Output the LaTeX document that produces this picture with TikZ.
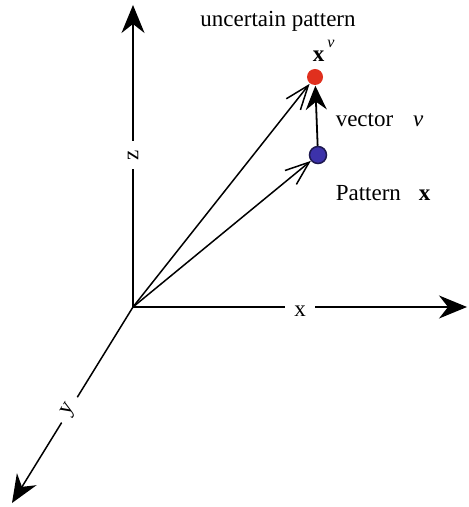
\documentclass[tikz,border=0pt]{standalone}
\usepackage{fontspec}
\setmainfont{Liberation Serif}
\usetikzlibrary{arrows.meta}

\begin{document}
\begin{tikzpicture}[x=0.5pt, y=-0.5pt, line width=0.75pt,
  axis/.style={-{Stealth[length=14pt, width=11.5pt, inset=4.5pt]}},
  ray/.style={-{Straight Barb[length=12pt, width=9pt]}},
  lab/.style={font=\fontsize{11.5}{14}\selectfont, inner sep=0pt},
  axlab/.style={lab, fill=white, inner sep=4.5pt, sloped},
  dot/.style={circle, minimum size=8pt, inner sep=0pt}]
  \useasboundingbox (0,0) rectangle (469,507);
  \coordinate (o) at (133,307);
  \coordinate (ztip) at (133,5);
  \coordinate (xtip) at (467,307);
  \coordinate (ytip) at (12,503);
  \node[dot, fill={rgb,255:red,224;green,48;blue,30}] (unc) at (315,77) {};
  \node[dot, minimum size=8.5pt, draw={rgb,255:red,30;green,25;blue,80}, fill={rgb,255:red,60;green,50;blue,170}] (pat) at (318,155) {};
  % axes
  \draw[axis] (o) -- node[axlab, pos=0.503] (zl) {z} (ztip);
  \draw[axis] (o) -- node[axlab, pos=0.5, yshift=-2pt] (xl) {x} (xtip);
  \draw[axis] (o) -- node[axlab, pos=0.525] (yl) {y} (ytip);
  % vectors
  \draw[ray] (o) -- (unc);
  \draw[ray] (o) -- (pat);
  \draw[line width=0.9pt, -{Stealth[length=12pt, width=10.5pt, inset=4pt]}] (pat) -- (unc);
  % labels
  \node[lab, anchor=base] (tu) at (278,27) {uncertain pattern};
  \node[lab, anchor=base west] (txv) at (312,62) {\textbf{x}\hspace{1.5pt}\raisebox{7pt}{\fontsize{8}{9}\selectfont\itshape v}};
  \node[lab, anchor=base west] (tv) at (335,127) {vector\hspace{10pt}\textit{v}};
  \node[lab, anchor=base west] (tp) at (335,201) {Pattern\hspace{9pt}\textbf{x}};
\end{tikzpicture}
\end{document}
